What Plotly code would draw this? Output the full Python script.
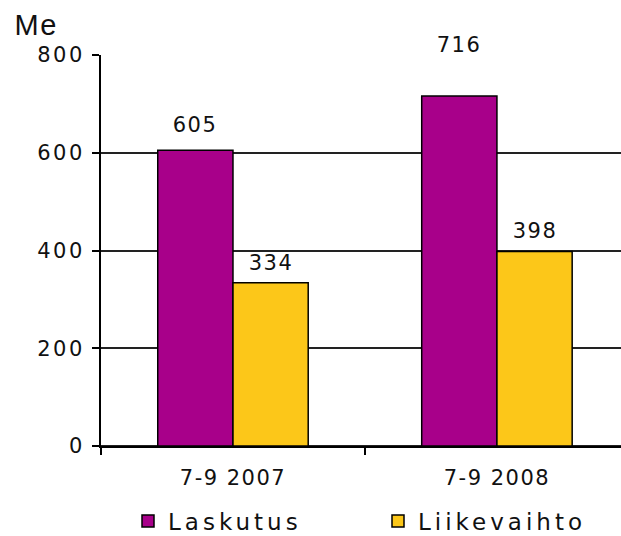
import plotly.graph_objects as go

categories = ["7-9 2007", "7-9 2008"]
series_names = ["Laskutus", "Liikevaihto"]
laskutus = [605, 716]
liikevaihto = [334, 398]
y_ticks = [0, 200, 400, 600, 800]

colors = ["#A8008A", "#FCC719"]
# per-label vertical offsets (px) above bar tops
label_shift_laskutus = [25, 51]
label_shift_liikevaihto = [20, 20]

FONT = "DejaVu Sans"

W, H = 621, 536
ML, MR, MT, MB = 101, 0, 55, 90
plot_w = W - ML - MR
plot_h = H - MT - MB

fig = go.Figure()
for name, vals, col in zip(series_names, [laskutus, liikevaihto], colors):
    fig.add_trace(go.Bar(
        x=categories, y=vals, name=name,
        marker=dict(color=col, line=dict(color="#000000", width=1.5)),
        hoverinfo="skip",
    ))

annotations = []
for i, cat in enumerate(categories):
    for vals, shifts, off in [(laskutus, label_shift_laskutus, -0.143),
                              (liikevaihto, label_shift_liikevaihto, 0.143)]:
        annotations.append(dict(
            x=i + off, xref="x", y=vals[i], yref="y",
            text=str(vals[i]), showarrow=False, yshift=shifts[i],
            font=dict(family=FONT, size=21, color="#111111"),
        ))
annotations.append(dict(
    x=(14 - ML) / plot_w, xref="paper", xanchor="left",
    y=1 + (MT - 25) / plot_h, yref="paper", yanchor="middle",
    text="Me", showarrow=False,
    font=dict(family="Liberation Sans", size=29, color="#111111"),
))

fig.update_layout(
    width=W, height=H,
    margin=dict(l=ML, r=MR, t=MT, b=MB, autoexpand=False),
    paper_bgcolor="white", plot_bgcolor="white",
    barmode="group", bargap=0.43, bargroupgap=0,
    showlegend=True,
    legend=dict(orientation="h", x=(128 - ML) / plot_w, xanchor="left",
                y=-(521 - MT - plot_h) / plot_h, yanchor="middle",
                font=dict(family=FONT, size=23, color="#111111"),
                entrywidth=205, entrywidthmode="pixels", traceorder="normal"),
    xaxis=dict(
        type="category", range=[-0.5, 1.47],
        showline=True, linecolor="#000000", linewidth=2,
        ticks="outside", tickson="boundaries", ticklen=7, tickcolor="#000000", tickwidth=1.5,
        ticklabelstandoff=12,
        tickfont=dict(family=FONT, size=21, color="#111111"),
        showgrid=False, fixedrange=True,
    ),
    yaxis=dict(
        range=[0, 800], tickvals=y_ticks,
        showline=True, linecolor="#000000", linewidth=2,
        ticks="outside", ticklen=7, tickcolor="#000000", tickwidth=1.5,
        showgrid=True, gridcolor="#222222", gridwidth=1.5,
        zeroline=True, zerolinecolor="#222222", zerolinewidth=2,
        ticklabelstandoff=3,
        tickfont=dict(family=FONT, size=21, color="#111111"),
        fixedrange=True,
    ),
    annotations=annotations,
)

post = """
document.body.style.margin = '0';
var sp = function(sel, v){document.querySelectorAll(sel).forEach(function(t){t.style.letterSpacing=v;});};
sp('.xtick text', '1.5px');
sp('.ytick text', '2.5px');
sp('.legendtext', '4px');
sp('.annotation-text', '1.5px');
"""
fig.write_html("out.html", post_script=post, config={"displayModeBar": False})
